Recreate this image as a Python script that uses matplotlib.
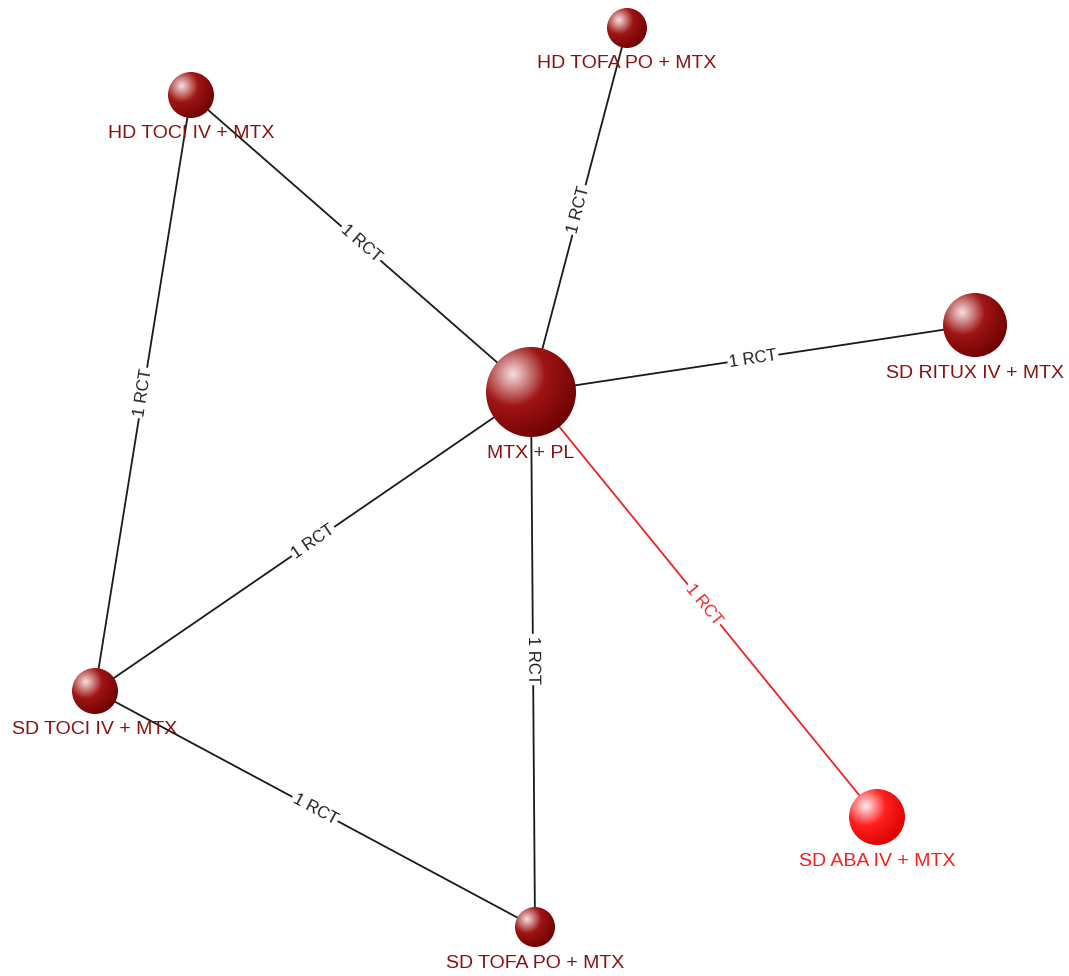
import numpy as np
import matplotlib
matplotlib.use("Agg")
import matplotlib.pyplot as plt
from matplotlib.patches import Circle

# node data: name, x, y (layout in pixels), radius (study size), highlighted?
nodes = ["MTX + PL", "HD TOFA PO + MTX", "HD TOCI IV + MTX", "SD RITUX IV + MTX",
         "SD TOCI IV + MTX", "SD TOFA PO + MTX", "SD ABA IV + MTX"]
node_x = [531, 627, 191, 975, 95, 535, 877]
node_y = [392, 28, 95, 325, 691, 927, 817]
node_r = [45, 20, 23, 32, 23, 20, 28]
node_hot = [False, False, False, False, False, False, True]

# edges: (from, to, label)
edges = [
    ("MTX + PL", "HD TOFA PO + MTX", "1 RCT"),
    ("MTX + PL", "HD TOCI IV + MTX", "1 RCT"),
    ("MTX + PL", "SD RITUX IV + MTX", "1 RCT"),
    ("MTX + PL", "SD TOCI IV + MTX", "1 RCT"),
    ("MTX + PL", "SD TOFA PO + MTX", "1 RCT"),
    ("MTX + PL", "SD ABA IV + MTX", "1 RCT"),
    ("HD TOCI IV + MTX", "SD TOCI IV + MTX", "1 RCT"),
    ("SD TOCI IV + MTX", "SD TOFA PO + MTX", "1 RCT"),
]
hot_edges = [("MTX + PL", "SD ABA IV + MTX")]

W, H = 1069, 976
fig = plt.figure(figsize=(W / 100, H / 100), dpi=100)
ax = fig.add_axes([0, 0, 1, 1])
ax.set_xlim(0, W)
ax.set_ylim(H, 0)
ax.set_aspect("equal")
ax.axis("off")

pos = {n: (x, y) for n, x, y in zip(nodes, node_x, node_y)}

DARK = "#8b1010"
RED = "#ff1a1a"

for a, b, lab in edges:
    (x1, y1), (x2, y2) = pos[a], pos[b]
    hot = (a, b) in hot_edges
    col = "#ee2222" if hot else "#1a1a1a"
    ax.plot([x1, x2], [y1, y2], color=col, lw=1.3, zorder=1)
    ang = np.degrees(np.arctan2(-(y2 - y1), x2 - x1))
    if ang > 90:
        ang -= 180
    elif ang < -90:
        ang += 180
    ax.text((x1 + x2) / 2, (y1 + y2) / 2, lab, rotation=ang, rotation_mode="anchor",
            ha="center", va="center", fontsize=12, color=col,
            family="Liberation Sans", zorder=2,
            bbox=dict(boxstyle="square,pad=0.1", fc="white", ec="none"))


def sphere(x, y, r, hot):
    n = 200
    g = np.linspace(-1, 1, n)
    gx, gy = np.meshgrid(g, g)
    # distance from highlight spot (upper left)
    d = np.sqrt((gx + 0.4) ** 2 + (gy + 0.4) ** 2) / 1.6
    d = np.clip(d, 0, 1)
    if hot:
        light, mid, edge = np.array([1, .93, .93]), np.array([1, .12, .12]), np.array([.85, 0, 0])
    else:
        light, mid, edge = np.array([.97, .88, .88]), np.array([.62, .08, .08]), np.array([.42, 0, 0])
    t1 = np.clip(d / 0.45, 0, 1)[..., None]
    t2 = np.clip((d - 0.45) / 0.55, 0, 1)[..., None]
    img = np.where(d[..., None] < 0.45, light * (1 - t1) + mid * t1, mid * (1 - t2) + edge * t2)
    im = ax.imshow(img, extent=(x - r, x + r, y + r, y - r), zorder=3, interpolation="bilinear")
    clip = Circle((x, y), r, transform=ax.transData)
    im.set_clip_path(clip)


for n, x, y, r, hot in zip(nodes, node_x, node_y, node_r, node_hot):
    sphere(x, y, r, hot)
    ax.text(x, y + r + 16, n, ha="center", va="center", fontsize=14,
            color=RED if hot else DARK, family="Liberation Sans", zorder=4)

ax.set_xlim(0, W)
ax.set_ylim(H, 0)
fig.savefig("out.png", dpi=100, facecolor="white")
